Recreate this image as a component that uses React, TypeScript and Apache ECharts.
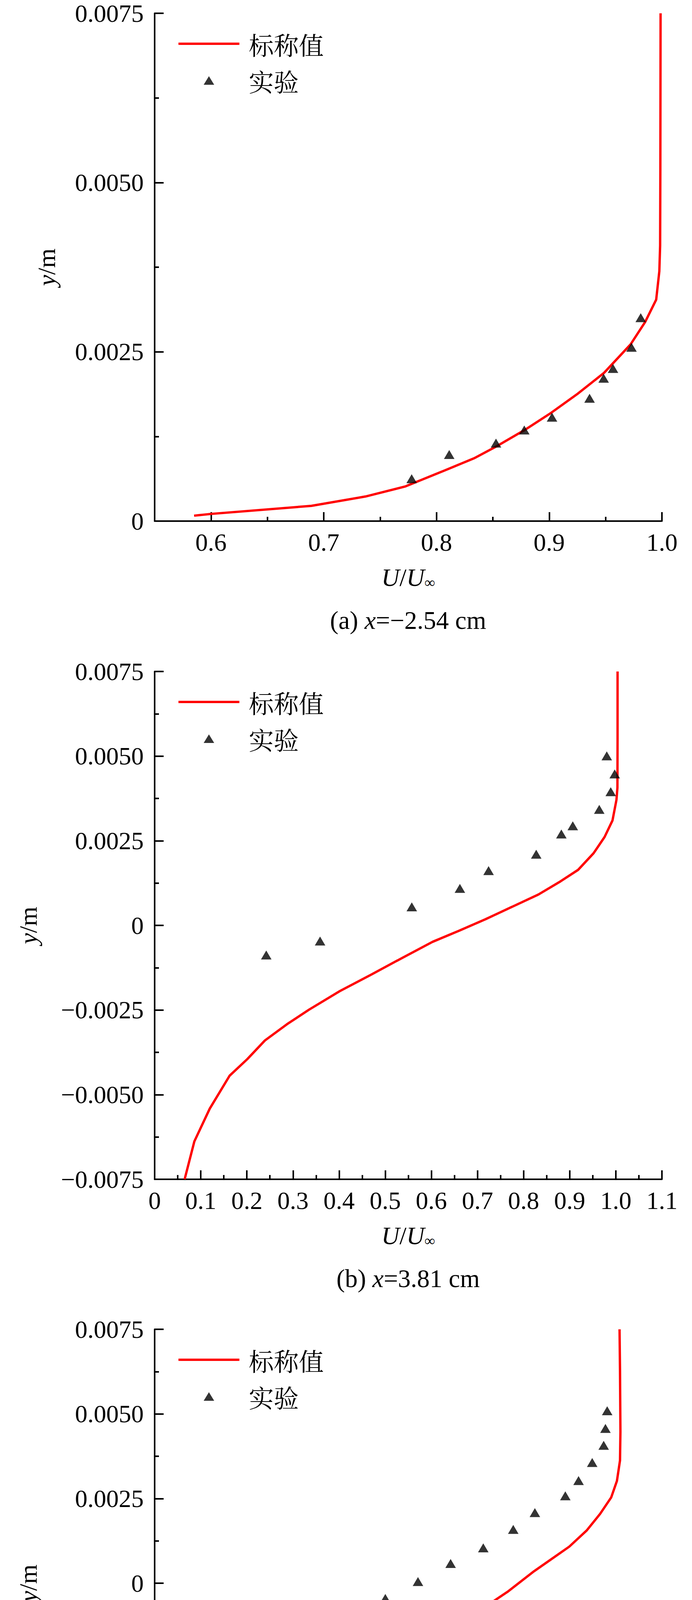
import React, { useEffect, useRef } from "react";
import * as echarts from "echarts";

const NOMINAL = "标称值";
const EXPERIMENT = "实验";

const captions: string[][] = [
  ["(a) ", "x", "=−2.54 cm"],
  ["(b) ", "x", "=3.81 cm"],
  ["(c) ", "x", "=6.35 cm"],
  ["(d) ", "x", "=8.89 cm"],
];

// panel (a)
const nominalA: [number, number][] = [
  [0.585, 0.00008], [0.6, 0.000106], [0.689, 0.000225], [0.737, 0.000363],
  [0.7726, 0.000513], [0.8078, 0.000751], [0.8333, 0.000927], [0.8528, 0.0011],
  [0.8783, 0.001346], [0.9018, 0.0016], [0.9252, 0.00188], [0.9487, 0.00219],
  [0.9722, 0.00261], [0.9851, 0.00294], [0.9949, 0.00327], [0.9977, 0.00369],
  [0.9984, 0.00407], [0.9986, 0.0052], [0.9988, 0.0075],
];
const expA: [number, number][] = [
  [0.778, 0.000626], [0.8113, 0.000983], [0.8528, 0.001152], [0.8779, 0.001346],
  [0.9025, 0.001534], [0.9358, 0.001815], [0.9483, 0.00211], [0.9566, 0.002254],
  [0.973, 0.002567], [0.9812, 0.003005],
];

// panel (b)
const nominalB: [number, number][] = [
  [0.065, -0.0075], [0.0861, -0.00638], [0.1196, -0.00541], [0.1626, -0.00444],
  [0.2009, -0.00395], [0.2391, -0.0034], [0.2869, -0.00292], [0.3348, -0.00249],
  [0.4017, -0.00194], [0.4687, -0.00146], [0.5356, -0.00097], [0.6026, -0.000486],
  [0.66, -0.000158], [0.7174, 0.000182], [0.7748, 0.000547], [0.8321, 0.000912],
  [0.88, 0.0013], [0.9182, 0.00164], [0.9517, 0.00213], [0.9756, 0.00261],
  [0.9928, 0.0031], [1.0014, 0.00371], [1.0035, 0.00407], [1.0038, 0.0055],
  [1.0038, 0.0075],
];
const expB: [number, number][] = [
  [0.242, -0.000875], [0.3587, -0.000462], [0.5576, 0.000547], [0.6619, 0.001094],
  [0.7241, 0.001617], [0.8274, 0.002103], [0.8819, 0.002699], [0.9067, 0.002942],
  [0.9641, 0.003428], [0.989, 0.00395], [0.9976, 0.004473], [0.9804, 0.005008],
];

// panel (c)
const nominalC: [number, number][] = [
  [0.1913, -0.0075], [0.2056, -0.00717], [0.2487, -0.00638], [0.3013, -0.00553],
  [0.3443, -0.00492], [0.4208, -0.00389], [0.4878, -0.00302], [0.5548, -0.00226],
  [0.6313, -0.00147], [0.7078, -0.000776], [0.7652, -0.000255], [0.8226, 0.000352],
  [0.8608, 0.000715], [0.8991, 0.00108], [0.9373, 0.001564], [0.966, 0.00205],
  [0.99, 0.002534], [1.0024, 0.00302], [1.0091, 0.003626], [1.01, 0.00447],
  [1.0091, 0.00629], [1.0081, 0.0075],
];
const expC: [number, number][] = [
  [0.3013, -0.001916], [0.3472, -0.001431], [0.418, -0.000934], [0.5002, -0.000449],
  [0.571, 0.0000485], [0.6418, 0.000582], [0.7126, 0.001043], [0.7776, 0.001589],
  [0.8245, 0.002086], [0.8905, 0.002583], [0.9192, 0.003031], [0.9488, 0.003565],
  [0.9737, 0.004074], [0.9775, 0.004571], [0.9813, 0.005093],
];

// panel (d)
const nominalD: [number, number][] = [
  [0.065, -0.0075], [0.0861, -0.00721], [0.1243, -0.00672], [0.1913, -0.00593],
  [0.2774, -0.00502], [0.373, -0.00405], [0.4591, -0.0032], [0.5452, -0.00229],
  [0.6217, -0.0015], [0.6982, -0.000655], [0.7748, 0.000194], [0.8417, 0.000922],
  [0.9087, 0.00159], [0.9565, 0.002015], [0.9833, 0.002318], [0.9948, 0.002621],
  [1.0024, 0.003289], [1.0062, 0.004138], [1.0091, 0.005716], [1.011, 0.0075],
];
const expD: [number, number][] = [
  [0.3195, -0.003447], [0.3807, -0.0029], [0.4103, -0.002403], [0.4591, -0.001917],
  [0.5098, -0.00142], [0.5548, -0.000947], [0.6169, -0.000449], [0.7212, 0.000558],
  [0.7748, 0.00108], [0.8369, 0.001578], [0.8704, 0.002027], [0.9067, 0.002549],
  [0.9364, 0.003058], [0.9613, 0.003568], [0.9823, 0.004066], [0.9727, 0.004515],
  [0.9727, 0.005085],
];

const nominalSets = [nominalA, nominalB, nominalC, nominalD];
const expSets = [expA, expB, expC, expD];

const xMajorTicksA = [0.6, 0.7, 0.8, 0.9, 1.0];

const SERIF = "'Liberation Serif', 'Times New Roman', serif";
const CJK = "'Noto Serif CJK SC', 'Noto Sans CJK SC', sans-serif";
const RED = "#f00";

const W = 1772;
const H = 6684;
const GRID_LEFT = 396;
const GRID_W = 1299;
const GRID_H = 1300;
const GRID_TOPS = [34, 1719, 3403, 5090];

function yFmt(v: number): string {
  if (Math.abs(v) < 1e-10) return "0";
  const s = Math.abs(v).toFixed(4);
  return v < 0 ? "−" + s : s;
}
function xFmt(v: number): string {
  if (Math.abs(v) < 1e-10) return "0";
  return v.toFixed(1);
}
function xFmtA(v: number): string {
  const r = Math.round(v * 100);
  return r % 10 === 0 ? v.toFixed(1) : "";
}

const axisLine = { show: true, onZero: false, lineStyle: { color: "#000", width: 4 } };
const majorTick = { show: true, inside: true, length: 23, lineStyle: { color: "#000", width: 4 } };
const minorTick = { show: true, splitNumber: 2, length: 11, lineStyle: { color: "#000", width: 4 } };
const labelBase = { color: "#000", fontFamily: SERIF, fontSize: 64 };

const xNameRich = {
  i: { fontFamily: SERIF, fontSize: 64, fontStyle: "italic", color: "#000", lineHeight: 64, verticalAlign: "top" },
  n: { fontFamily: SERIF, fontSize: 64, color: "#000", lineHeight: 64, verticalAlign: "top" },
  s: { fontFamily: SERIF, fontSize: 38, color: "#000", lineHeight: 38, padding: [40, 0, 0, 0], verticalAlign: "bottom" },
};
const yNameRich = {
  i: { fontFamily: SERIF, fontSize: 64, fontStyle: "italic", color: "#000" },
  n: { fontFamily: SERIF, fontSize: 64, color: "#000" },
};

function buildOption() {
  const grid = GRID_TOPS.map((t) => ({ left: GRID_LEFT, top: t, width: GRID_W, height: GRID_H, containLabel: false }));

  const xAxis: any[] = [];
  const yAxis: any[] = [];
  const series: any[] = [];
  const legend: any[] = [];
  const graphic: any[] = [];
  const xIndexForPanel: number[] = [];

  GRID_TOPS.forEach((top, i) => {
    const xName = {
      name: "{i|U}{n|/}{i|U}{s|∞}",
      nameLocation: "middle",
      nameGap: 112,
      nameTextStyle: { rich: xNameRich },
    };
    if (i === 0) {
      xIndexForPanel.push(xAxis.length);
      xAxis.push({
        type: "value",
        gridIndex: 0,
        position: "bottom",
        min: 0.55,
        max: 1.0,
        interval: 0.05,
        axisLine,
        axisTick: { show: true, inside: true, length: 11, lineStyle: { color: "#000", width: 4 } },
        minorTick: { show: false },
        splitLine: { show: false },
        axisLabel: { ...labelBase, margin: 22, formatter: xFmtA },
        ...xName,
      });
      xAxis.push({
        type: "value",
        gridIndex: 0,
        position: "bottom",
        min: 0.55,
        max: 1.0,
        axisLine: { show: false, onZero: false },
        axisTick: { ...majorTick, customValues: xMajorTicksA },
        minorTick: { show: false },
        splitLine: { show: false },
        axisLabel: { show: false },
      });
    } else {
      xIndexForPanel.push(xAxis.length);
      xAxis.push({
        type: "value",
        gridIndex: i,
        position: "bottom",
        min: 0,
        max: 1.1,
        interval: 0.1,
        axisLine,
        axisTick: majorTick,
        minorTick,
        splitLine: { show: false },
        axisLabel: { ...labelBase, margin: 22, formatter: xFmt, showMinLabel: true, showMaxLabel: true },
        ...xName,
      });
    }

    yAxis.push({
      type: "value",
      gridIndex: i,
      position: "left",
      min: i === 0 ? 0 : -0.0075,
      max: 0.0075,
      interval: 0.0025,
      axisLine,
      axisTick: majorTick,
      minorTick,
      splitLine: { show: false },
      axisLabel: { ...labelBase, margin: 28, formatter: yFmt, showMinLabel: true, showMaxLabel: true },
      name: "{i|y}{n|/m}",
      nameLocation: "middle",
      nameGap: i === 0 ? 245 : 292,
      nameTextStyle: { rich: yNameRich },
    });

    series.push({
      type: "line",
      name: NOMINAL,
      xAxisIndex: xIndexForPanel[i],
      yAxisIndex: i,
      data: nominalSets[i],
      showSymbol: false,
      symbol: "none",
      smooth: false,
      lineStyle: { color: RED, width: 6 },
      itemStyle: { color: RED },
      z: 2,
    });
    series.push({
      type: "scatter",
      name: EXPERIMENT,
      xAxisIndex: xIndexForPanel[i],
      yAxisIndex: i,
      data: expSets[i],
      symbol: "triangle",
      symbolSize: [27, 23],
      itemStyle: { color: "#000" },
      z: 3,
    });

    legend.push({
      orient: "vertical",
      left: 457,
      top: top + 46,
      padding: 0,
      itemWidth: 156,
      itemHeight: 22,
      itemGap: 30,
      selectedMode: false,
      data: [
        { name: NOMINAL, icon: "path://M0,0L156,0L156,6L0,6Z", itemStyle: { color: RED } },
        { name: EXPERIMENT, icon: "path://M0,22L13.5,0L27,22Z", itemStyle: { color: "#000" } },
      ],
      textStyle: { fontFamily: CJK, fontSize: 64, color: "#000", padding: [0, 0, 0, 19] },
    });

    const cap = captions[i];
    graphic.push({
      type: "text",
      x: 1045,
      y: top + GRID_H + 254,
      style: {
        text: `{n|${cap[0]}}{i|${cap[1]}}{n|${cap[2]}}`,
        align: "center",
        verticalAlign: "middle",
        rich: {
          n: { fontFamily: SERIF, fontSize: 65, fill: "#000" },
          i: { fontFamily: SERIF, fontSize: 65, fontStyle: "italic", fill: "#000" },
        },
      },
    });
  });

  return {
    animation: false,
    backgroundColor: "#fff",
    grid,
    xAxis,
    yAxis,
    series,
    legend,
    graphic,
  };
}

export default function App() {
  const ref = useRef<HTMLDivElement | null>(null);
  useEffect(() => {
    if (!ref.current) return;
    const chart = echarts.init(ref.current, undefined, { renderer: "svg", width: W, height: H });
    chart.setOption(buildOption() as any);
    return () => {
      chart.dispose();
    };
  }, []);
  return <div ref={ref} style={{ width: W, height: H, margin: -8, background: "#fff" }} />;
}
